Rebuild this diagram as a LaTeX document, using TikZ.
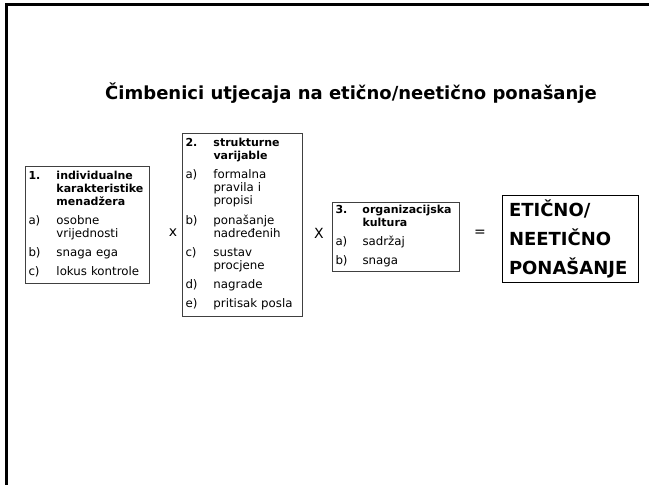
\documentclass[tikz,border=0pt]{standalone}
\usepackage{fontspec}
\setmainfont{DejaVu Sans}
\usepackage{array}

\newcommand{\glava}[1]{{\fontsize{11}{13}\selectfont\bfseries #1}}

\begin{document}
\begin{tikzpicture}[x=1pt, y=-1pt]
\tikzset{ inner sep=0pt, outer sep=0pt,
  factor/.style={draw=black!75, line width=0.8pt, anchor=north west, inner xsep=3.5pt,
                 align=left, font=\fontsize{11.8}{13}\selectfont},
  result/.style={draw=black, line width=1pt, anchor=north west, inner xsep=7pt,
                 align=left, font=\fontsize{18}{29}\selectfont\bfseries},
  oper/.style={font=\fontsize{14}{16}\selectfont},
}

\useasboundingbox (0,0) rectangle (649,485);

%\draw [lightgray, dashed](0,0) grid (649,485);

\draw [line width=2.6pt] (649,4.5) -- (6.5,4.5) -- (6.5,485);

\node [font=\fontsize{18}{22}\selectfont\bfseries] (title) at (351,93)
  {Čimbenici utjecaja na etično/neetično ponašanje};

\node [factor, text width=117pt, minimum height=117pt] (indiv) at (25,166) {%
\begin{tabular}{@{}p{28pt}@{}l@{}}
\glava{1.} & \glava{individualne}\\
 & \glava{karakteristike}\\
 & \glava{menadžera}\\[6pt]
a) & osobne\\
 & vrijednosti\\[6pt]
b) & snaga ega\\[6pt]
c) & lokus kontrole
\end{tabular}};

\node [factor, text width=113pt, minimum height=183pt] (struk) at (182,133) {%
\begin{tabular}{@{}p{28pt}@{}l@{}}
\glava{2.} & \glava{strukturne}\\
 & \glava{varijable}\\[6pt]
a) & formalna\\
 & pravila i\\
 & propisi\\[6pt]
b) & ponašanje\\
 & nadređenih\\[6pt]
c) & sustav\\
 & procjene\\[6pt]
d) & nagrade\\[6pt]
e) & pritisak posla
\end{tabular}};

\node [factor, text width=120pt, minimum height=69pt] (kult) at (332,202) {%
\begin{tabular}{@{}p{27pt}@{}l@{}}
\glava{3.} & \glava{organizacijska}\\
 & \glava{kultura}\\[6pt]
a) & sadržaj\\[6pt]
b) & snaga
\end{tabular}};

\node [result, text width=122pt, minimum height=87pt] (ponas) at (502,195)
  {ETIČNO/\\NEETIČNO\\PONAŠANJE};

\node [oper] (puta1) at (173,233) {x};
\node [oper] (puta2) at (319,233) {X};
\node [oper] (jednako) at (480,233) {=};
\end{tikzpicture}
\end{document}
